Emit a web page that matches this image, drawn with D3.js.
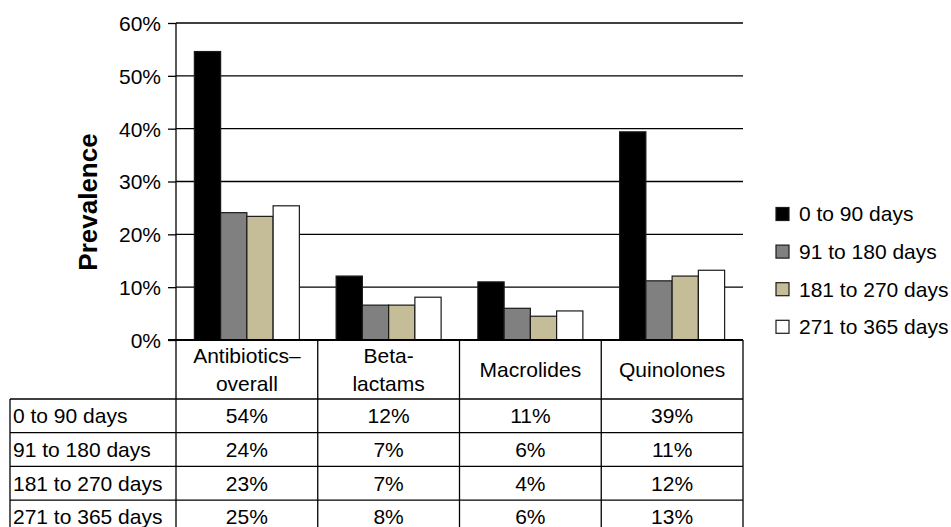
<!DOCTYPE html>
<html>
<head>
<meta charset="utf-8">
<script src="https://cdn.jsdelivr.net/npm/d3@7"></script>
<style>
  html, body { margin: 0; padding: 0; background: #fff; }
  svg { display: block; }
  text { font-family: "Liberation Sans", Arial, sans-serif; fill: #000; }
</style>
</head>
<body>
<svg id="chart" width="951" height="527"></svg>
<script>
"use strict";

// ── data ─────────────────────────────────────────────────────────────────────
const categories   = ["Antibiotics–overall", "Beta-lactams", "Macrolides", "Quinolones"];
const headerLines  = [["Antibiotics–", "overall"], ["Beta-", "lactams"], ["Macrolides"], ["Quinolones"]];
const seriesNames  = ["0 to 90 days", "91 to 180 days", "181 to 270 days", "271 to 365 days"];
const days0to90    = [54.6, 12.1, 11.0, 39.4];
const days91to180  = [24.1, 6.6, 6.0, 11.2];
const days181to270 = [23.4, 6.6, 4.5, 12.1];
const days271to365 = [25.4, 8.1, 5.5, 13.2];
const tableRows = [
  ["54%", "12%", "11%", "39%"],
  ["24%", "7%", "6%", "11%"],
  ["23%", "7%", "4%", "12%"],
  ["25%", "8%", "6%", "13%"],
];
const yTicks = [0, 10, 20, 30, 40, 50, 60];

const seriesValues = [days0to90, days91to180, days181to270, days271to365];
const seriesColors = ["#000000", "#808080", "#c4bd97", "#ffffff"];

// ── layout ───────────────────────────────────────────────────────────────────
const plot = { left: 176, right: 743, top: 23, bottom: 340 };
const FS = 21;
const svg = d3.select("#chart");

const x0 = d3.scaleBand().domain(categories).range([plot.left, plot.right]);
const groupW = 105;
const x1 = d3.scaleBand().domain(seriesNames)
  .range([(x0.bandwidth() - groupW) / 2, (x0.bandwidth() + groupW) / 2]);
const y = d3.scaleLinear().domain([0, 60]).range([plot.bottom, plot.top]);

// Grid lines + ticks
const yAxis = svg.append("g")
  .attr("transform", `translate(${plot.left},0)`)
  .call(d3.axisLeft(y).tickValues(yTicks).tickSize(8).tickFormat(d => d + "%"))
  .call(ax => {
    ax.select(".domain").remove();
    ax.selectAll(".tick line").attr("stroke", "#000").attr("stroke-width", 1.3);
    ax.selectAll("text")
      .attr("font-size", FS).attr("x", -15).attr("dy", "0.35em")
      .attr("font-family", "Liberation Sans, Arial, sans-serif").attr("fill", "#000");
  });

svg.append("g").selectAll("line").data(yTicks.filter(t => t > 0)).enter().append("line")
  .attr("x1", plot.left).attr("x2", plot.right)
  .attr("y1", d => y(d)).attr("y2", d => y(d))
  .attr("stroke", "#000").attr("stroke-width", 1.3);

// Bars
const groups = svg.append("g").selectAll("g").data(categories).enter().append("g")
  .attr("transform", d => `translate(${x0(d)},0)`);

groups.selectAll("rect")
  .data((c, ci) => seriesNames.map((s, si) => ({ s, si, v: seriesValues[si][ci] })))
  .enter().append("rect")
  .attr("x", d => x1(d.s))
  .attr("y", d => y(d.v))
  .attr("width", x1.bandwidth())
  .attr("height", d => y(0) - y(d.v))
  .attr("fill", d => seriesColors[d.si])
  .attr("stroke", "#1a1a1a")
  .attr("stroke-width", 1.2);

// Y axis line and baseline
svg.append("line")
  .attr("x1", plot.left).attr("x2", plot.left)
  .attr("y1", plot.top).attr("y2", 527)
  .attr("stroke", "#000").attr("stroke-width", 1.3);
svg.append("line")
  .attr("x1", plot.left - 8).attr("x2", plot.right)
  .attr("y1", y(0)).attr("y2", y(0))
  .attr("stroke", "#000").attr("stroke-width", 2);

// Y axis title
svg.append("text")
  .attr("transform", `translate(97,202) rotate(-90)`)
  .attr("text-anchor", "middle")
  .attr("font-size", 26).attr("font-weight", "bold")
  .text("Prevalence");

// ── data table ───────────────────────────────────────────────────────────────
const tableLeft = 10;
const headerBottom = 399;
const rowH = 33.7;
const rowY = i => headerBottom + i * rowH;
const lineC = "#000";

const tbl = svg.append("g");

// column separators (header + rows)
categories.forEach(c => {
  tbl.append("line")
    .attr("x1", x0(c) + x0.bandwidth()).attr("x2", x0(c) + x0.bandwidth())
    .attr("y1", y(0)).attr("y2", 527)
    .attr("stroke", lineC).attr("stroke-width", 1.3);
});
// left border of row labels
tbl.append("line")
  .attr("x1", tableLeft).attr("x2", tableLeft)
  .attr("y1", headerBottom).attr("y2", 527)
  .attr("stroke", lineC).attr("stroke-width", 1.3);
// horizontal row lines
tableRows.forEach((r, i) => {
  tbl.append("line")
    .attr("x1", tableLeft).attr("x2", plot.right)
    .attr("y1", rowY(i)).attr("y2", rowY(i))
    .attr("stroke", lineC).attr("stroke-width", 1.3);
});

// header text
categories.forEach((c, ci) => {
  const lines = headerLines[ci];
  const cx = x0(c) + x0.bandwidth() / 2;
  const midY = (y(0) + headerBottom) / 2;
  const lh = 28;
  lines.forEach((ln, li) => {
    tbl.append("text")
      .attr("x", cx)
      .attr("y", midY + (li - (lines.length - 1) / 2) * lh)
      .attr("dy", "0.35em")
      .attr("text-anchor", "middle")
      .attr("font-size", FS)
      .text(ln);
  });
});

// row labels and values
tableRows.forEach((row, ri) => {
  const cy = rowY(ri) + rowH / 2;
  tbl.append("text")
    .attr("x", tableLeft + 3).attr("y", cy).attr("dy", "0.35em")
    .attr("font-size", FS)
    .text(seriesNames[ri]);
  row.forEach((val, ci) => {
    tbl.append("text")
      .attr("x", x0(categories[ci]) + x0.bandwidth() / 2).attr("y", cy).attr("dy", "0.35em")
      .attr("text-anchor", "middle")
      .attr("font-size", FS)
      .text(val);
  });
});

// ── legend ───────────────────────────────────────────────────────────────────
const legend = svg.append("g").selectAll("g").data(seriesNames).enter().append("g")
  .attr("transform", (d, i) => `translate(776,${214 + i * 37.6})`);
legend.append("rect")
  .attr("x", 0).attr("y", -6.5).attr("width", 13).attr("height", 13)
  .attr("fill", (d, i) => seriesColors[i])
  .attr("stroke", "#1a1a1a").attr("stroke-width", 1.2);
legend.append("text")
  .attr("x", 23).attr("y", 0).attr("dy", "0.35em")
  .attr("font-size", FS)
  .text(d => d);
</script>
</body>
</html>
